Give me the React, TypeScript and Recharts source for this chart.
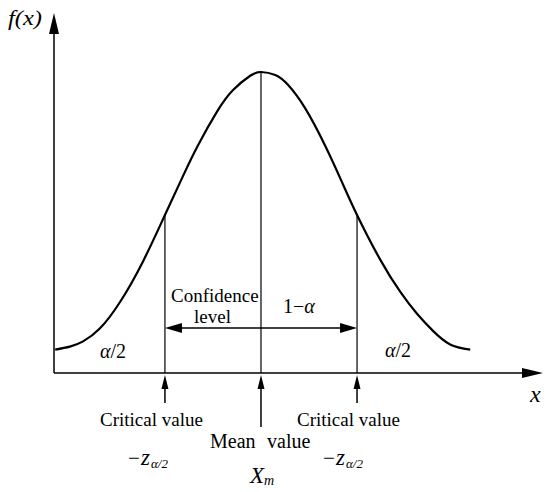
import React from "react";
import { LineChart, Line, XAxis, YAxis, ReferenceLine } from "recharts";

// Normal-distribution curve (x in z-units, y = density)
const curveX = [-4.2, -3.9, -3.63, -3.29, -2.88, -2.41, -1.96, -1.59, -1.29, -0.9, -0.57, -0.22, 0, 0.29, 0.55, 0.9, 1.31, 1.65, 1.96, 2.43, 2.84, 3.18, 3.51, 3.86, 4.27];
const curveY = [0.031, 0.035, 0.042, 0.059, 0.094, 0.148, 0.21, 0.262, 0.302, 0.347, 0.376, 0.395, 0.4, 0.396, 0.383, 0.352, 0.302, 0.254, 0.21, 0.151, 0.108, 0.079, 0.056, 0.038, 0.031];

const criticalValues = [-1.96, 1.96];
const criticalDensity = 0.21;
const meanValue = 0;
const peakDensity = 0.4;

const data = curveX.map((x, i) => ({ x, y: curveY[i] }));

// annotation geometry (data units)
const X_MIN = -4.224;
const X_MAX = 5.755;
const Y_MAX = 0.4784;
const INTERVAL_Y = 0.0598;
const ARROW_TIP_Y = -0.0027;
const CRIT_ARROW_BOTTOM = -0.0399;
const MEAN_ARROW_BOTTOM = -0.0718;

const FONT = "'Liberation Serif', 'Times New Roman', Times, serif";
const tx: React.CSSProperties = { fontFamily: FONT };

type ArrowOpts = { start?: boolean; end?: boolean; len: number; half: number; sw: number };

const makeArrow = (o: ArrowOpts) => (p: any) => {
  const x1 = Number(p.x1), y1 = Number(p.y1), x2 = Number(p.x2), y2 = Number(p.y2);
  const dx = x2 - x1, dy = y2 - y1;
  const L = Math.hypot(dx, dy) || 1;
  const ux = dx / L, uy = dy / L;
  const px = -uy, py = ux;
  const head = (hx: number, hy: number, dirx: number, diry: number) => {
    const bx = hx - dirx * o.len, by = hy - diry * o.len;
    return `${hx},${hy} ${bx + px * o.half},${by + py * o.half} ${bx - px * o.half},${by - py * o.half}`;
  };
  const sx = o.start ? x1 + ux * (o.len - 1) : x1;
  const sy = o.start ? y1 + uy * (o.len - 1) : y1;
  const ex = o.end ? x2 - ux * (o.len - 1) : x2;
  const ey = o.end ? y2 - uy * (o.len - 1) : y2;
  return (
    <g>
      <line x1={sx} y1={sy} x2={ex} y2={ey} stroke="#000" strokeWidth={o.sw} />
      {o.end && <polygon points={head(x2, y2, ux, uy)} fill="#000" />}
      {o.start && <polygon points={head(x1, y1, -ux, -uy)} fill="#000" />}
    </g>
  );
};

const axisArrow = makeArrow({ end: true, len: 21, half: 5, sw: 1.5 });
const upArrow = makeArrow({ end: true, len: 14, half: 3.5, sw: 1.5 });
const intervalArrow = makeArrow({ start: true, end: true, len: 17, half: 5, sw: 1.5 });

const ZLabel = (p: { x: number; y: number }) => (
  <g>
    <text x={p.x} y={p.y} fontSize={21} style={tx}>−</text>
    <text x={p.x + 13} y={p.y} fontSize={23} fontStyle="italic" style={tx}>z</text>
    <text x={p.x + 23} y={p.y + 3} fontSize={13} fontStyle="italic" style={tx}>α/2</text>
  </g>
);

export default function App() {
  return (
    <div style={{ position: "absolute", left: 0, top: 0, width: 550, height: 492, background: "#fff" }}>
      <LineChart width={550} height={492} data={data} margin={{ top: 13, right: 7, bottom: 119, left: 54 }}>
        <XAxis type="number" dataKey="x" domain={[X_MIN, X_MAX]} allowDataOverflow hide />
        <YAxis type="number" domain={[0, Y_MAX]} allowDataOverflow hide />
        {/* axes with arrows */}
        <ReferenceLine segment={[{ x: X_MIN, y: 0 }, { x: X_MAX, y: 0 }]} ifOverflow="visible" shape={axisArrow} />
        <ReferenceLine segment={[{ x: X_MIN, y: 0 }, { x: X_MIN, y: Y_MAX }]} ifOverflow="visible" shape={axisArrow} />
        {/* vertical lines */}
        {criticalValues.map((c) => (
          <ReferenceLine key={"v" + c} segment={[{ x: c, y: 0 }, { x: c, y: criticalDensity }]} ifOverflow="visible" stroke="#000" strokeWidth={1.2} />
        ))}
        <ReferenceLine segment={[{ x: meanValue, y: 0 }, { x: meanValue, y: peakDensity }]} ifOverflow="visible" stroke="#000" strokeWidth={1.2} />
        {/* confidence interval arrow */}
        <ReferenceLine segment={[{ x: criticalValues[0], y: INTERVAL_Y }, { x: criticalValues[1], y: INTERVAL_Y }]} ifOverflow="visible" shape={intervalArrow} />
        {/* arrows below axis */}
        {criticalValues.map((c) => (
          <ReferenceLine key={"a" + c} segment={[{ x: c, y: CRIT_ARROW_BOTTOM }, { x: c, y: ARROW_TIP_Y }]} ifOverflow="visible" shape={upArrow} />
        ))}
        <ReferenceLine segment={[{ x: meanValue, y: MEAN_ARROW_BOTTOM }, { x: meanValue, y: ARROW_TIP_Y }]} ifOverflow="visible" shape={upArrow} />
        <Line type="natural" dataKey="y" stroke="#000" strokeWidth={2.2} dot={false} isAnimationActive={false} />
      </LineChart>
      <svg width={550} height={492} style={{ position: "absolute", left: 0, top: 0, pointerEvents: "none" }} fill="#000">
        <text x={8} y={25} fontSize={22} fontStyle="italic" style={tx} textLength={34} lengthAdjust="spacingAndGlyphs">f(x)</text>
        <text x={530} y={402} fontSize={24} fontStyle="italic" style={tx}>x</text>
        <text x={100} y={358} fontSize={20} style={tx}><tspan fontStyle="italic">α</tspan>/2</text>
        <text x={385} y={357} fontSize={20} style={tx}><tspan fontStyle="italic">α</tspan>/2</text>
        <text x={171} y={302} fontSize={19} style={tx}>Confidence</text>
        <text x={194} y={323} fontSize={19} style={tx}>level</text>
        <text x={283} y={313} fontSize={20} style={tx}>1−<tspan fontStyle="italic">α</tspan></text>
        <text x={100} y={426} fontSize={19} style={tx}>Critical value</text>
        <text x={297} y={426} fontSize={19} style={tx}>Critical value</text>
        <text x={210} y={448} fontSize={20} style={tx}>Mean</text>
        <text x={267} y={448} fontSize={20} style={tx}>value</text>
        <ZLabel x={128} y={465} />
        <ZLabel x={323} y={465} />
        <text x={250} y={483} fontSize={23} fontStyle="italic" style={tx}>X<tspan fontSize={14} dy={2}>m</tspan></text>
      </svg>
    </div>
  );
}
